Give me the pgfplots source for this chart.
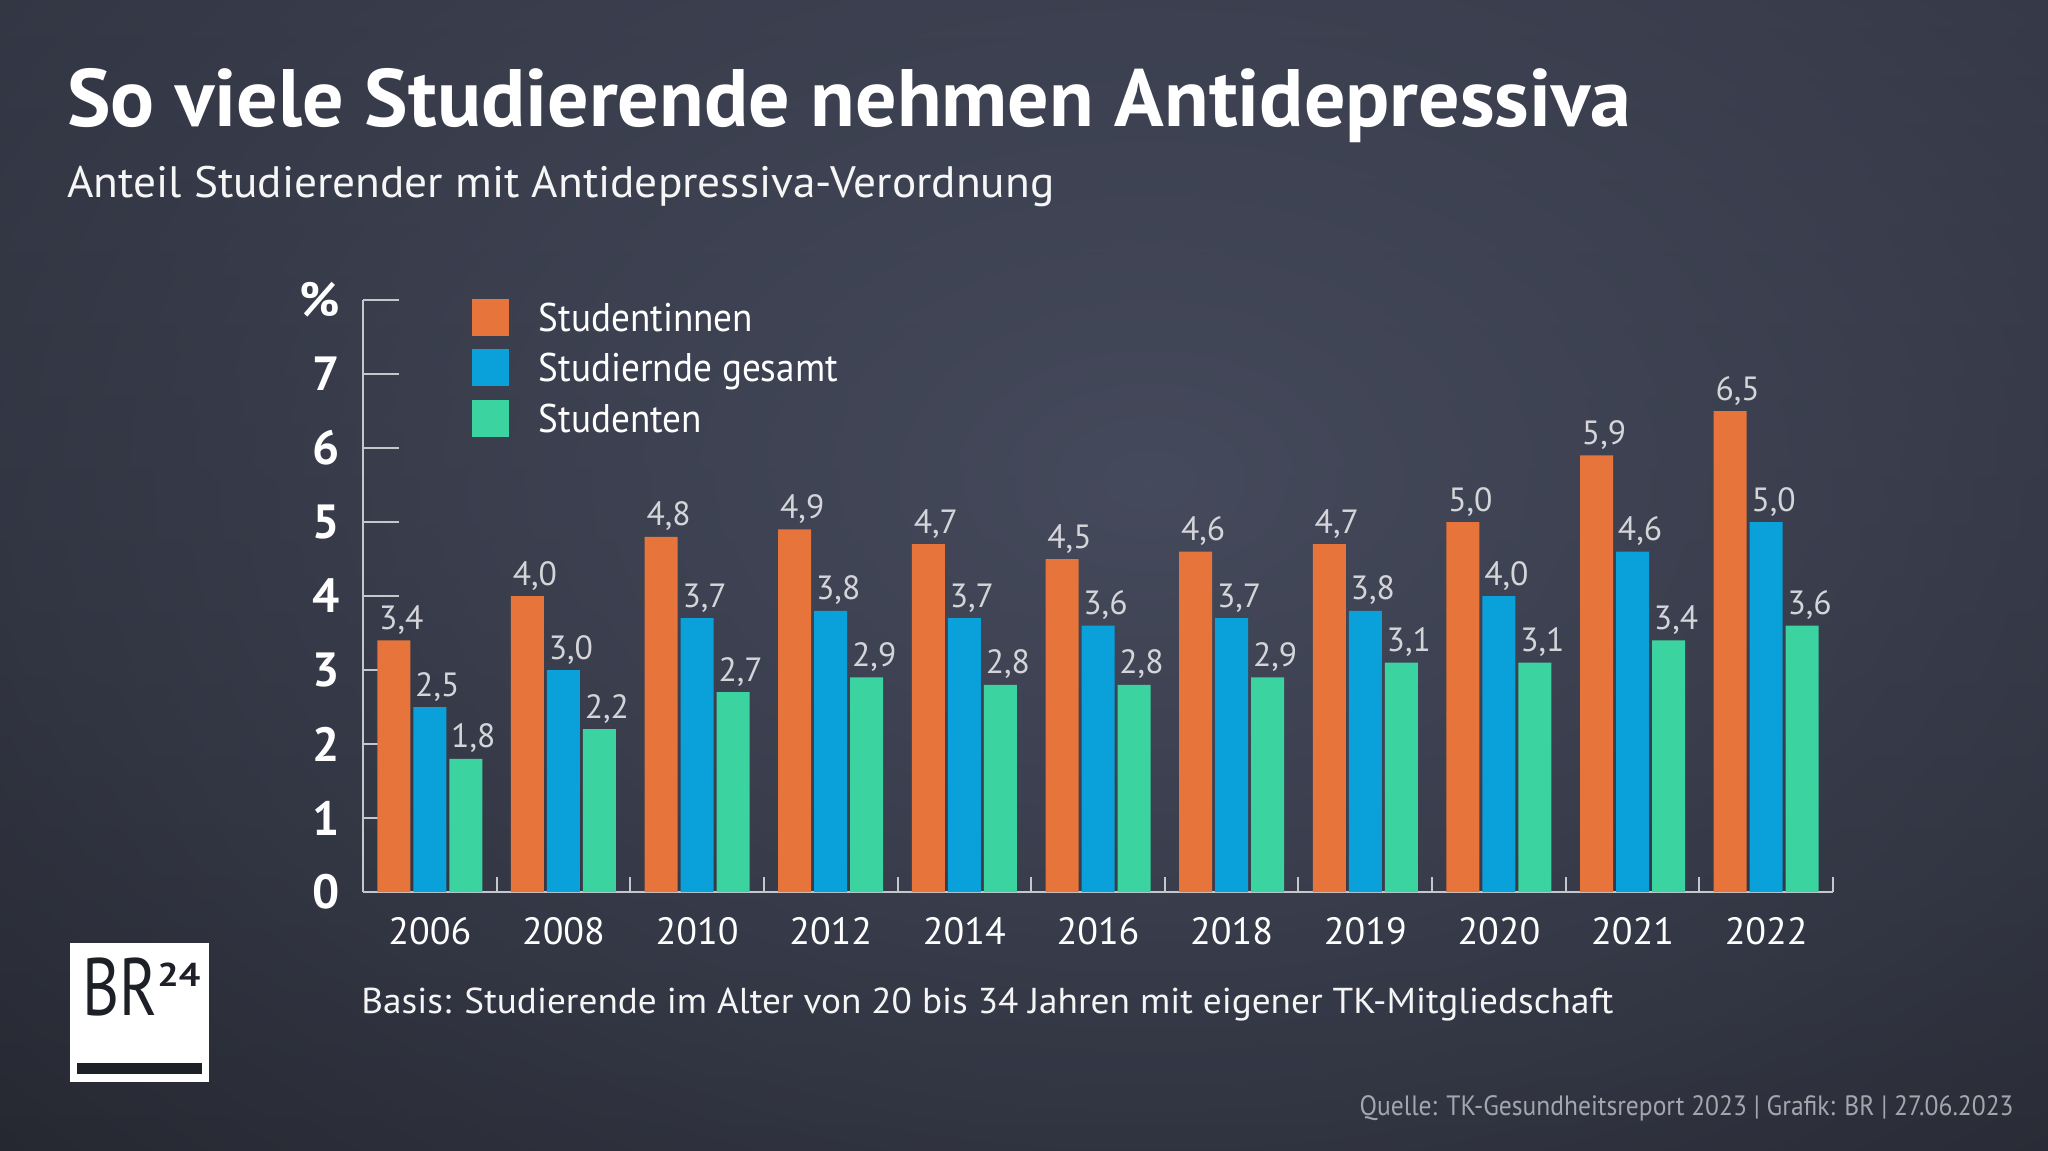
\documentclass[border=0pt]{standalone}
\usepackage{fontspec}
\setmainfont{PT Sans}
\usepackage{graphicx}
\usepackage{pgfplots}
\pgfplotsset{compat=1.18}
\usetikzlibrary{fadings}
\tikzfading[name=glowfade, inner color=transparent!0, outer color=transparent!100]

\definecolor{cOr}{HTML}{E6743B}
\definecolor{cBl}{HTML}{0AA0DA}
\definecolor{cGr}{HTML}{3BD3A0}
\definecolor{bgTop}{HTML}{2A2D38}
\definecolor{bgBot}{HTML}{1A1B21}
\definecolor{bgGlow}{HTML}{454A5C}
\definecolor{axcol}{HTML}{C5C7CC}
\definecolor{lblcol}{HTML}{D4D5D9}
\definecolor{srccol}{HTML}{A3A6AD}
\definecolor{logodark}{HTML}{1E2028}

\newcommand\fitw[2]{\sbox0{#2}\pgfmathsetmacro\fitscale{#1/\the\wd0}\scalebox{\fitscale}[1]{\usebox0}}

\pgfplotsset{sqlegend/.style={legend image code/.code={\fill (0pt,-9.25pt) rectangle (18.5pt,9.25pt);}}}

\begin{document}
\begin{tikzpicture}
\begin{scope}[x=0.5pt,y=-0.5pt]
  \shade[top color=bgTop, bottom color=bgBot] (0,0) rectangle (2048,1150);
  \begin{scope}
    \clip (0,0) rectangle (2048,1150);
    \fill[bgGlow, path fading=glowfade] (1150,480) ellipse (2100 and 1400);
  \end{scope}
  % title
  \node[anchor=base west, inner sep=0pt, text=white] at (67,127)
    {\fitw{782pt}{\fontsize{40.7pt}{44pt}\selectfont\bfseries So viele Studierende nehmen Antidepressiva}};
  \node[anchor=base west, inner sep=0pt, text=white!93!gray] at (67,198)
    {\fitw{493.5pt}{\fontsize{22pt}{24pt}\selectfont Anteil Studierender mit Antidepressiva-Verordnung}};
  % footnote
  \node[anchor=base west, inner sep=0pt, text=white!92!gray] at (361,1013)
    {\fitw{626pt}{\fontsize{18pt}{20pt}\selectfont Basis: Studierende im Alter von 20 bis 34 Jahren mit eigener TK-Mitgliedschaft}};
  \node[anchor=base east, inner sep=0pt, text=srccol] at (2014,1115)
    {\fitw{327pt}{\fontsize{14pt}{16pt}\selectfont Quelle: TK-Gesundheitsreport 2023 | Grafik: BR | 27.06.2023}};
  % logo
  \fill[white] (70,943) rectangle (209,1082);
  \fill[logodark] (77,1063) rectangle (202,1074);
  \node[anchor=base west, inner sep=0pt, text=logodark] at (82,1015)
    {\fitw{37.5pt}{\fontsize{40.7pt}{42pt}\selectfont BR}};
  \node[anchor=base west, inner sep=0pt, text=logodark] at (157,986)
    {\fitw{21.5pt}{\fontsize{16.5pt}{17pt}\selectfont\bfseries 24}};
\end{scope}

\begin{axis}[
  at={(181.5pt,-446pt)}, anchor=south west,
  scale only axis, width=735pt, height=296pt,
  xmin=-0.5, xmax=10.5, ymin=0, ymax=8,
  clip=false,
  axis x line*=bottom, axis y line*=left,
  axis line style={axcol, line width=1pt},
  ybar=1.5pt, bar width=16.5pt,
  xtick={0,...,10},
  xticklabels={2006,2008,2010,2012,2014,2016,2018,2019,2020,2021,2022},
  minor xtick={-0.5,0.5,...,10.5},
  ytick={0,...,8}, yticklabels={0,1,2,3,4,5,6,7,\%},
  tick align=inside,
  major tick length=18pt, minor tick length=7.5pt,
  tick style={axcol, line width=1pt},
  major x tick style={draw=none},
  xticklabel style={font=\fontsize{19pt}{20pt}\selectfont, text=white, anchor=north, inner sep=0pt, yshift=-12.5pt},
  yticklabel style={font=\fontsize{24pt}{25pt}\selectfont\bfseries, text=white, anchor=east, inner sep=0pt, xshift=-11.5pt},
  nodes near coords={\pgfmathprintnumber[fixed,fixed zerofill,precision=1,use comma,assume math mode=true]{\pgfplotspointmeta}},
  every node near coord/.append style={font=\fontsize{16.8pt}{17pt}\selectfont, text=lblcol, anchor=base, inner sep=0pt, yshift=5.5pt, xshift=3.75pt},
  legend style={at={(axis description cs:0.07415,1.0084)}, anchor=north west,
    draw=none, fill=none, inner sep=0pt, outer sep=0pt,
    row sep=3.25pt, column sep=15pt,
    font=\fontsize{20pt}{22pt}\selectfont, text=white,
    nodes={inner sep=0pt, text height=18pt, text depth=4pt}},
  legend cell align=left,
]
\addplot[fill=cOr, draw=none, sqlegend] coordinates {(0,3.4) (1,4.0) (2,4.8) (3,4.9) (4,4.7) (5,4.5) (6,4.6) (7,4.7) (8,5.0) (9,5.9) (10,6.5)};
\addlegendentry{\scalebox{0.93}[1]{Studentinnen}}
\addplot[fill=cBl, draw=none, sqlegend] coordinates {(0,2.5) (1,3.0) (2,3.7) (3,3.8) (4,3.7) (5,3.6) (6,3.7) (7,3.8) (8,4.0) (9,4.6) (10,5.0)};
\addlegendentry{\scalebox{0.93}[1]{Studiernde gesamt}}
\addplot[fill=cGr, draw=none, sqlegend] coordinates {(0,1.8) (1,2.2) (2,2.7) (3,2.9) (4,2.8) (5,2.8) (6,2.9) (7,3.1) (8,3.1) (9,3.4) (10,3.6)};
\addlegendentry{\scalebox{0.93}[1]{Studenten}}
\end{axis}
\end{tikzpicture}
\end{document}
